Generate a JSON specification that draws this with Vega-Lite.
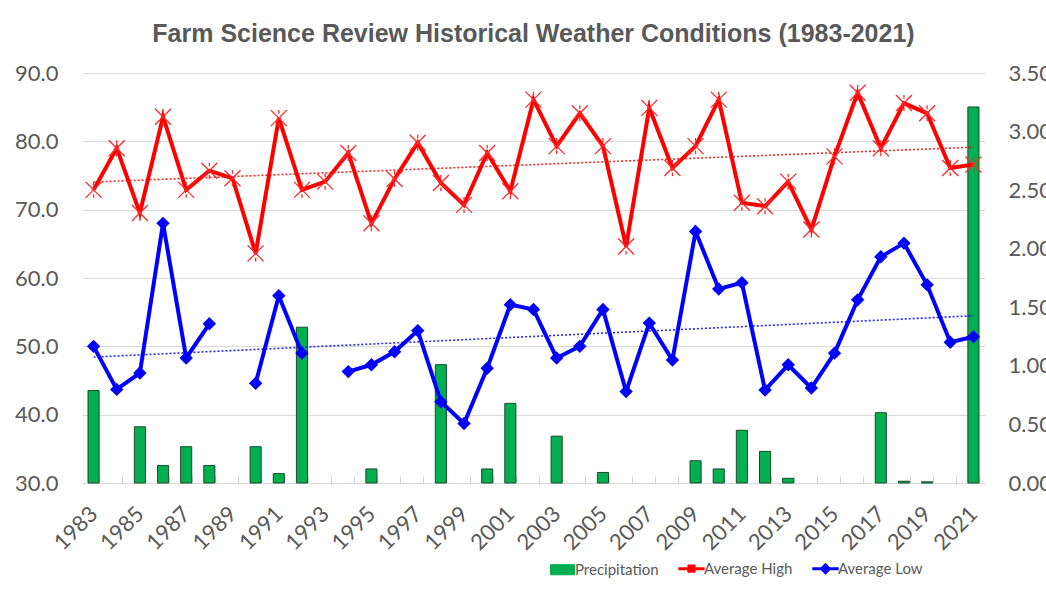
{
  "$schema": "https://vega.github.io/schema/vega-lite/v6.json",
  "width": 903,
  "height": 410,
  "autosize": {"type": "none"},
  "padding": {"left": 82, "top": 73, "right": 61, "bottom": 112},
  "background": "white",
  "title": {
    "text": "Farm Science Review Historical Weather Conditions (1983-2021)",
    "font": "Liberation Sans",
    "fontSize": 25,
    "fontWeight": "bold",
    "color": "#595959",
    "anchor": "middle",
    "baseline": "alphabetic",
    "offset": -5
  },
  "config": {
    "view": {"stroke": null},
    "font": "Lato",
    "axis": {"labelFont": "Lato", "labelColor": "#595959", "labelFontSize": 22, "titleFont": "Lato"},
    "legend": {"labelFont": "Lato"}
  },
  "data": {
    "values": [
      {"year": 1983, "Average High": 72.9, "Average Low": 50.0, "Precipitation": 0.79},
      {"year": 1984, "Average High": 79.0, "Average Low": 43.7, "Precipitation": null},
      {"year": 1985, "Average High": 69.5, "Average Low": 46.1, "Precipitation": 0.48},
      {"year": 1986, "Average High": 83.6, "Average Low": 68.0, "Precipitation": 0.15},
      {"year": 1987, "Average High": 72.9, "Average Low": 48.3, "Precipitation": 0.31},
      {"year": 1988, "Average High": 75.7, "Average Low": 53.3, "Precipitation": 0.15},
      {"year": 1989, "Average High": 74.6, "Average Low": null, "Precipitation": null},
      {"year": 1990, "Average High": 63.6, "Average Low": 44.6, "Precipitation": 0.31},
      {"year": 1991, "Average High": 83.4, "Average Low": 57.4, "Precipitation": 0.08},
      {"year": 1992, "Average High": 72.9, "Average Low": 49.0, "Precipitation": 1.33},
      {"year": 1993, "Average High": 74.1, "Average Low": null, "Precipitation": null},
      {"year": 1994, "Average High": 78.3, "Average Low": 46.3, "Precipitation": null},
      {"year": 1995, "Average High": 68.0, "Average Low": 47.3, "Precipitation": 0.12},
      {"year": 1996, "Average High": 74.5, "Average Low": 49.2, "Precipitation": null},
      {"year": 1997, "Average High": 79.8, "Average Low": 52.3, "Precipitation": null},
      {"year": 1998, "Average High": 73.9, "Average Low": 41.9, "Precipitation": 1.01},
      {"year": 1999, "Average High": 70.7, "Average Low": 38.7, "Precipitation": null},
      {"year": 2000, "Average High": 78.3, "Average Low": 46.8, "Precipitation": 0.12},
      {"year": 2001, "Average High": 72.7, "Average Low": 56.1, "Precipitation": 0.68},
      {"year": 2002, "Average High": 86.1, "Average Low": 55.4, "Precipitation": null},
      {"year": 2003, "Average High": 79.3, "Average Low": 48.3, "Precipitation": 0.40},
      {"year": 2004, "Average High": 84.1, "Average Low": 50.0, "Precipitation": null},
      {"year": 2005, "Average High": 79.3, "Average Low": 55.4, "Precipitation": 0.09},
      {"year": 2006, "Average High": 64.6, "Average Low": 43.4, "Precipitation": null},
      {"year": 2007, "Average High": 84.9, "Average Low": 53.4, "Precipitation": null},
      {"year": 2008, "Average High": 76.1, "Average Low": 48.0, "Precipitation": null},
      {"year": 2009, "Average High": 79.3, "Average Low": 66.8, "Precipitation": 0.19},
      {"year": 2010, "Average High": 86.1, "Average Low": 58.4, "Precipitation": 0.12},
      {"year": 2011, "Average High": 71.0, "Average Low": 59.3, "Precipitation": 0.45},
      {"year": 2012, "Average High": 70.5, "Average Low": 43.6, "Precipitation": 0.27},
      {"year": 2013, "Average High": 74.1, "Average Low": 47.3, "Precipitation": 0.04},
      {"year": 2014, "Average High": 67.1, "Average Low": 43.9, "Precipitation": null},
      {"year": 2015, "Average High": 77.8, "Average Low": 49.0, "Precipitation": null},
      {"year": 2016, "Average High": 87.1, "Average Low": 56.8, "Precipitation": null},
      {"year": 2017, "Average High": 79.0, "Average Low": 63.1, "Precipitation": 0.60},
      {"year": 2018, "Average High": 85.6, "Average Low": 65.1, "Precipitation": 0.015},
      {"year": 2019, "Average High": 84.1, "Average Low": 59.0, "Precipitation": 0.01},
      {"year": 2020, "Average High": 76.1, "Average Low": 50.6, "Precipitation": null},
      {"year": 2021, "Average High": 76.6, "Average Low": 51.4, "Precipitation": 3.21}
    ]
  },
  "encoding": {
    "x": {
      "field": "year",
      "type": "ordinal",
      "scale": {"type": "band", "paddingInner": 0.52, "paddingOuter": 0.26},
      "axis": {
        "title": null,
        "labelAngle": -45,
        "labelAlign": "right",
        "labelBaseline": "middle",
        "labelExpr": "datum.value % 2 == 1 ? datum.label : ''",
        "labelPadding": 34,
        "labelFontSize": 22,
        "tickBand": "extent",
        "tickSize": -7,
        "tickColor": "#d0d0d0",
        "domainColor": "#d9d9d9",
        "grid": false
      }
    }
  },
  "layer": [
    {
      "mark": {"type": "bar", "stroke": "#1f4a2a", "strokeWidth": 1},
      "encoding": {
        "y": {
          "field": "Precipitation",
          "type": "quantitative",
          "scale": {"domain": [0, 3.5], "nice": false},
          "axis": {
            "orient": "right",
            "title": null,
            "values": [0, 0.5, 1, 1.5, 2, 2.5, 3, 3.5],
            "format": ".2f",
            "grid": false,
            "domain": false,
            "ticks": false,
            "labelPadding": 23
          }
        },
        "color": {
          "datum": "Precipitation",
          "scale": {"domain": ["Precipitation", "Average High", "Average Low"], "range": ["#00b050", "#ff0000", "#0000ff"]},
          "legend": {
            "title": null,
            "orient": "none",
            "legendX": 473,
            "legendY": 488,
            "direction": "horizontal",
            "labelFontSize": 15,
            "labelColor": "#595959",
            "symbolSize": 576,
            "labelOffset": 5,
            "columnPadding": 13,
            "encoding": {
              "symbols": {
                "shape": {"value": {"expr": "datum.value === 'Precipitation' ? 'M-1,-0.42H1V0.42H-1Z' : (datum.value === 'Average High' ? 'M-1.1,0H1.1M-0.3,-0.3L0.3,0.3M0.3,-0.3L-0.3,0.3M0,-0.35L0,0.35' : 'M-1.1,0H1.1M0,-0.32L0.32,0L0,0.32L-0.32,0Z')"}},
                "fill": {"value": {"expr": "datum.value === 'Precipitation' ? '#00b050' : (datum.value === 'Average High' ? '#ff0000' : '#0000ff')"}},
                "stroke": {"value": {"expr": "datum.value === 'Precipitation' ? '#1f4a2a' : (datum.value === 'Average High' ? '#ff0000' : '#0000ff')"}},
                "strokeWidth": {"value": {"expr": "datum.value === 'Precipitation' ? 1 : 3"}},
                "opacity": {"value": 1},
                "fillOpacity": {"value": 1}
              }
            }
          }
        }
      }
    },
    {
      "transform": [
        {"fold": ["Average High", "Average Low"], "as": ["series", "temp"]},
        {"regression": "temp", "on": "year", "groupby": ["series"]}
      ],
      "mark": {"type": "line", "strokeWidth": 1.6, "strokeDash": [2, 2], "opacity": 0.85},
      "encoding": {
        "y": {"field": "temp", "type": "quantitative", "scale": {"domain": [30, 90], "nice": false, "zero": false}, "axis": null},
        "color": {"field": "series", "type": "nominal", "legend": null}
      }
    },
    {
      "transform": [{"fold": ["Average High", "Average Low"], "as": ["series", "temp"]}],
      "mark": {"type": "line", "strokeWidth": 4},
      "encoding": {
        "y": {
          "field": "temp",
          "type": "quantitative",
          "scale": {"domain": [30, 90], "nice": false, "zero": false},
          "axis": {
            "orient": "left",
            "title": null,
            "values": [30, 40, 50, 60, 70, 80, 90],
            "format": ".1f",
            "grid": true,
            "gridColor": "#d9d9d9",
            "domain": false,
            "ticks": false,
            "labelPadding": 24
          }
        },
        "color": {"field": "series", "type": "nominal", "legend": null}
      }
    },
    {
      "transform": [{"filter": "datum['Average High'] != null"}],
      "mark": {"type": "point", "filled": false, "strokeWidth": 1.3, "color": "#ff2a2a", "size": 256, "opacity": 1,
        "shape": "M-1,-1L1,1M1,-1L-1,1M0,-1L0,-0.55M0,0.55L0,1"},
      "encoding": {
        "y": {"field": "Average High", "type": "quantitative", "scale": {"domain": [30, 90], "nice": false, "zero": false}, "axis": null}
      }
    },
    {
      "transform": [{"filter": "datum['Average Low'] != null"}],
      "mark": {"type": "point", "filled": true, "color": "#0000ff", "size": 180, "shape": "diamond", "opacity": 1},
      "encoding": {
        "y": {"field": "Average Low", "type": "quantitative", "scale": {"domain": [30, 90], "nice": false, "zero": false}, "axis": null}
      }
    }
  ],
  "resolve": {"scale": {"y": "independent"}}
}
